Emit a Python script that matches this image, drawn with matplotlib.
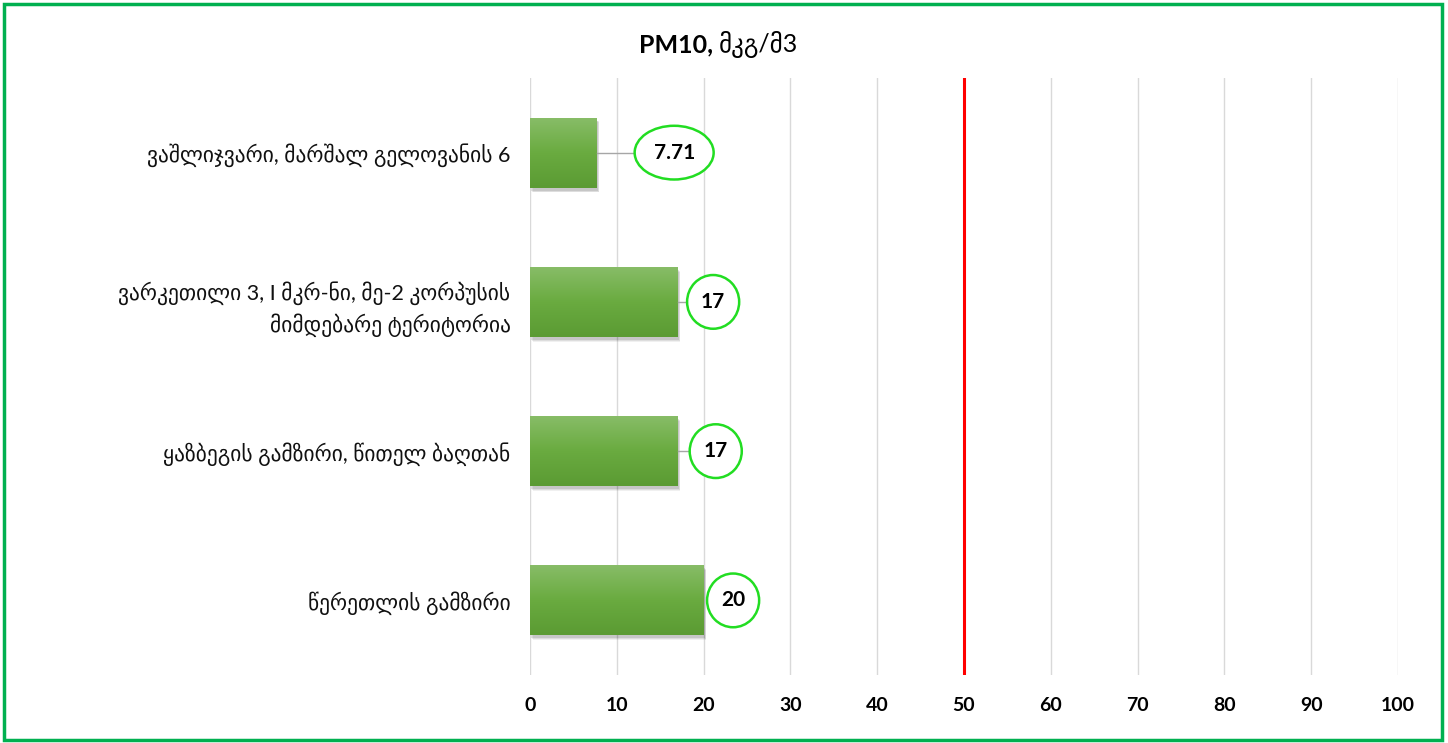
import matplotlib.pyplot as plt
import numpy as np
from matplotlib.patches import Ellipse, Rectangle
from matplotlib.colors import LinearSegmentedColormap

plt.rcParams['font.family'] = ['Lato', 'DejaVu Sans']

title_bold = "PM10,"
title_unit = "მკგ/მ3"
locations = [
    "ვაშლიჯვარი, მარშალ გელოვანის 6",
    "ვარკეთილი 3, I მკრ-ნი, მე-2 კორპუსის\nმიმდებარე ტერიტორია",
    "ყაზბეგის გამზირი, წითელ ბაღთან",
    "წერეთლის გამზირი",
]
values = [7.71, 17, 17, 20]
value_labels = ["7.71", "17", "17", "20"]
limit = 50
x_ticks = [0, 10, 20, 30, 40, 50, 60, 70, 80, 90, 100]

# label bubble placement (offset from bar end, width in data units)
label_offsets = [8.9, 4.1, 4.4, 3.4]
label_widths = [9.1, 6.0, 6.0, 6.0]

fig = plt.figure(figsize=(14.48, 7.43), dpi=100)
ax = fig.add_axes([0.366, 0.0915, 0.5995, 0.8035])

y = np.arange(len(locations))
bar_h = 0.47

cmap = LinearSegmentedColormap.from_list("grn", ["#88bd68", "#6aab40", "#5b9b33"])
grad = np.linspace(0, 1, 100).reshape(-1, 1)

for yi, v in zip(y, values):
    # soft shadow
    for k, a in enumerate([0.10, 0.08, 0.06]):
        d = 0.25 + k * 0.2
        sh = Rectangle((0.1 + d * 0.3, yi - bar_h / 2 + 0.02 + k * 0.006), v, bar_h,
                       facecolor="black", alpha=a, edgecolor="none", zorder=2)
        ax.add_patch(sh)
    bar = ax.barh(yi, v, height=bar_h, color="#6aab40", zorder=3)[0]
    im = ax.imshow(grad, cmap=cmap, aspect="auto", zorder=3.5,
                   extent=[0, v, yi + bar_h / 2, yi - bar_h / 2])
    im.set_clip_path(bar)

ax.axvline(limit, color="#ff0000", lw=2.2, zorder=4)

for yi, v, lab, off, w in zip(y, values, value_labels, label_offsets, label_widths):
    cx = v + off
    left = cx - w / 2
    if left > v + 0.5:
        ax.plot([v, left], [yi, yi], color="#a6a6a6", lw=1, zorder=4)
    e = Ellipse((cx, yi), w, 0.36, facecolor="white", edgecolor="#22dd22", lw=1.8, zorder=5)
    ax.add_patch(e)
    ax.text(cx, yi, lab, ha="center", va="center", fontsize=15, fontweight="bold",
            color="black", zorder=6)

ax.set_xlim(0, 100)
ax.set_ylim(len(locations) - 0.5, -0.5)
ax.set_xticks(x_ticks)
ax.set_xticklabels([str(t) for t in x_ticks], fontsize=14, fontweight="bold")
ax.set_yticks(y)
ax.set_yticklabels(locations, fontsize=15.5, linespacing=1.5, color="#111111")
ax.tick_params(axis="x", length=0, pad=16)
ax.tick_params(axis="y", length=0, pad=14)
ax.grid(axis="x", color="#d9d9d9", lw=1, zorder=0)
for s in ax.spines.values():
    s.set_visible(False)
ax.axvline(0, color="#d0d0d0", lw=1.2, zorder=1)

fig.text(713 / 1448, 0.94, title_bold, ha="right", va="center", fontsize=18, fontweight="bold")
fig.text(719 / 1448, 0.94, title_unit, ha="left", va="center", fontsize=18)

# outer green frame
fig.patches.append(Rectangle((0.003, 0.004), 0.993, 0.99, transform=fig.transFigure,
                             fill=False, edgecolor="#00b050", lw=2.5))

fig.savefig("out.png", dpi=100)
